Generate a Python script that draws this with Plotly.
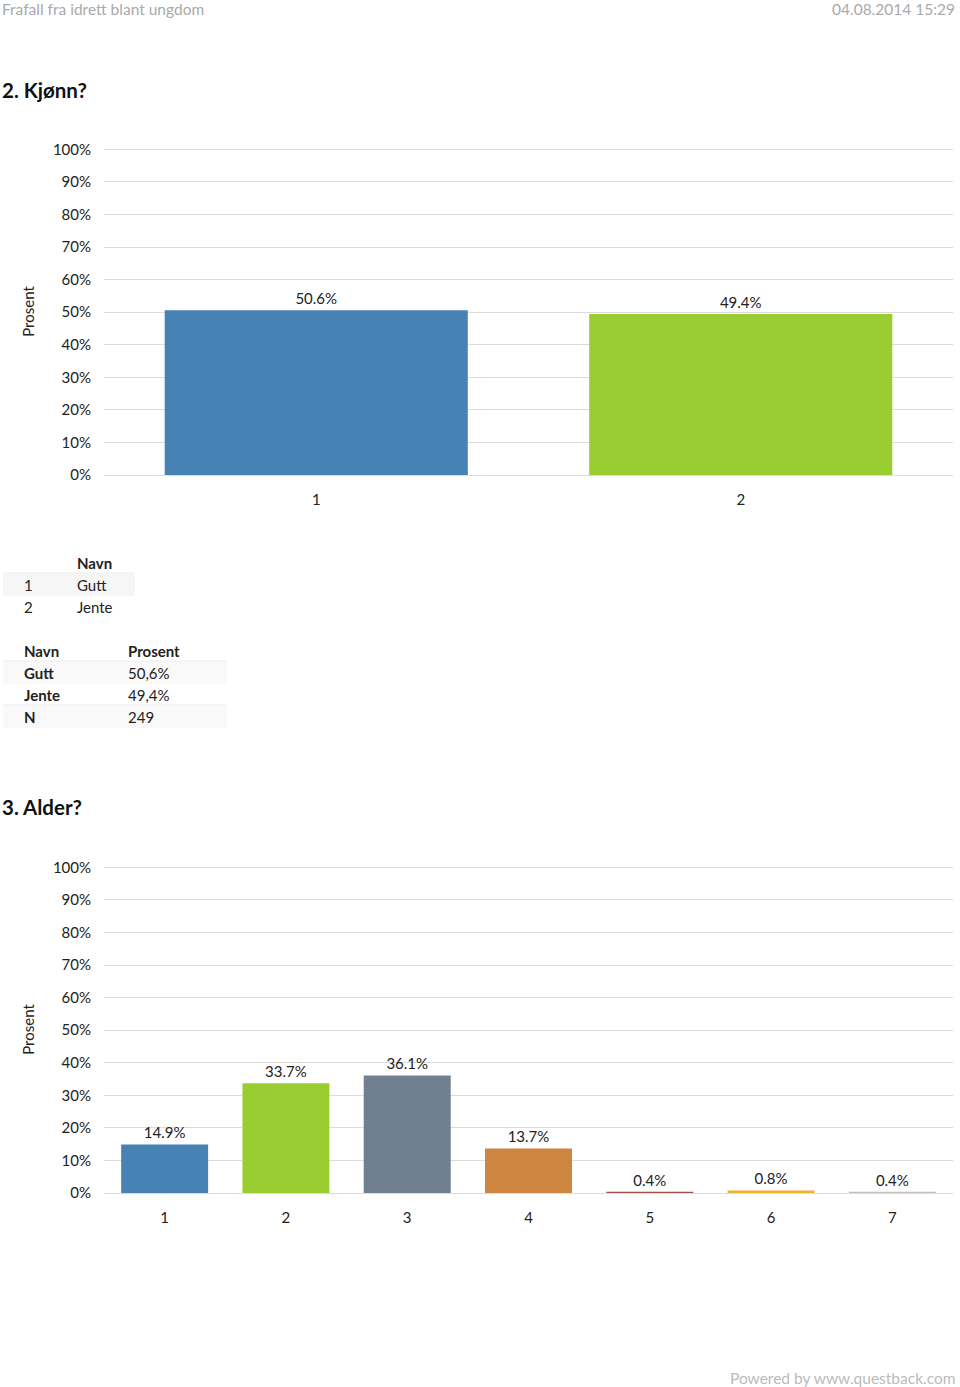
import plotly.graph_objects as go

# ---- data ----
gender_cats = ["1", "2"]
gender_names = ["Gutt", "Jente"]
gender_vals = [50.6, 49.4]
gender_n = 249
age_cats = ["1", "2", "3", "4", "5", "6", "7"]
age_vals = [14.9, 33.7, 36.1, 13.7, 0.4, 0.8, 0.4]
y_ticks = [0, 10, 20, 30, 40, 50, 60, 70, 80, 90, 100]

gender_colors = ["#4682B4", "#9ACD32"]
age_colors = ["#4682B4", "#9ACD32", "#708090", "#CD853F", "#A0524A", "#F2B22E", "#C0C0C0"]

FONT = "Lato"
W, H = 960, 1387

def py(px):
    return 1 - px / H

def px_x(px):
    return px / W

fig = go.Figure()
fig.add_trace(go.Bar(x=gender_cats, y=gender_vals, marker_color=gender_colors,
                     width=0.714, text=[f"{v:.1f}%" for v in gender_vals],
                     textposition="outside", cliponaxis=False,
                     textfont=dict(size=15, color="#222", family=FONT),
                     xaxis="x", yaxis="y", showlegend=False))
fig.add_trace(go.Bar(x=age_cats, y=age_vals, marker_color=age_colors,
                     width=0.717, text=[f"{v:.1f}%" for v in age_vals],
                     textposition="outside", cliponaxis=False,
                     textfont=dict(size=15, color="#222", family=FONT),
                     xaxis="x2", yaxis="y2", showlegend=False))

yax = dict(range=[0, 100.4], autorange=False, tickvals=y_ticks, ticktext=[f"{t}%" for t in y_ticks],
           showgrid=True, gridcolor="#DCDCDC", gridwidth=1, zeroline=False,
           showline=False, ticks="", ticklabelstandoff=12, automargin=False,
           tickfont=dict(size=15, color="#222", family=FONT),
           title=dict(text="Prosent", font=dict(size=15, color="#222", family=FONT), standoff=14),
           fixedrange=True)
xax = dict(showgrid=False, zeroline=False, showline=True, linecolor="#DCDCDC", linewidth=1,
           ticks="", ticklabelstandoff=11, automargin=False,
           tickfont=dict(size=15, color="#222", family=FONT), type="category")

fig.update_layout(
    template="none",
    width=W, height=H, margin=dict(l=0, r=0, t=0, b=0, pad=0), autosize=False,
    paper_bgcolor="white", plot_bgcolor="white", bargap=0.3,
    xaxis=dict(domain=[px_x(104), px_x(953)], anchor="y", **xax),
    yaxis=dict(domain=[py(475), py(148)], anchor="x", **yax),
    xaxis2=dict(domain=[px_x(104), px_x(953)], anchor="y2", **xax),
    yaxis2=dict(domain=[py(1193), py(866)], anchor="x2", **yax),
    font=dict(family=FONT),
)

ann = []
shapes = []

def text(x, y, s, size=15, color="#222", bold=False, xanchor="left"):
    ann.append(dict(x=px_x(x), y=py(y), xref="paper", yref="paper", text=f"<b>{s}</b>" if bold else s,
                    showarrow=False, xanchor=xanchor, yanchor="middle",
                    font=dict(size=size, color=color, family=FONT)))

def rect(x0, y0, x1, y1, color):
    shapes.append(dict(type="rect", xref="paper", yref="paper", x0=px_x(x0), x1=px_x(x1),
                       y0=py(y1), y1=py(y0), fillcolor=color, line=dict(width=0), layer="below"))

def hline(x0, x1, y, color="#EAEAEA"):
    shapes.append(dict(type="line", xref="paper", yref="paper", x0=px_x(x0), x1=px_x(x1),
                       y0=py(y), y1=py(y), line=dict(color=color, width=1)))

# header / footer
text(0, 9, "Frafall fra idrett blant ungdom", size=15.5, color="#AAAAAA")
text(957, 9, "04.08.2014 15:29", size=15.5, color="#AAAAAA", xanchor="right")
text(957, 1378, "Powered by www.questback.com", size=15.5, color="#BBBBBB", xanchor="right")

# titles
text(0, 90, "2. Kjønn?", size=20.5, color="#111", bold=True)
text(0, 807, "3. Alder?", size=20.5, color="#111", bold=True)

# table 1
rect(3, 574, 135, 596, "#F6F6F6")
hline(3, 135, 573)
text(75, 563, "Navn", bold=True)
for i, (c, n) in enumerate(zip(gender_cats, gender_names)):
    yy = 585 + 22 * i
    text(22, yy, c)
    text(75, yy, n)

# table 2
rect(3, 662, 227, 684, "#F9F9F9")
rect(3, 706, 227, 728, "#F9F9F9")
hline(3, 227, 661)
hline(3, 227, 705)
text(22, 651, "Navn", bold=True)
text(126, 651, "Prosent", bold=True)
rows = [(n, f"{v:.1f}%".replace(".", ",")) for n, v in zip(gender_names, gender_vals)] + [("N", str(gender_n))]
for i, (n, v) in enumerate(rows):
    yy = 673 + 22 * i
    text(22, yy, n, bold=True)
    text(126, yy, v)

fig.update_layout(annotations=ann, shapes=shapes)
fig.write_html("out.html", config={"displayModeBar": False, "staticPlot": True},
               post_script="document.body.style.margin='0';document.body.style.padding='0';document.documentElement.style.overflow='hidden';")
